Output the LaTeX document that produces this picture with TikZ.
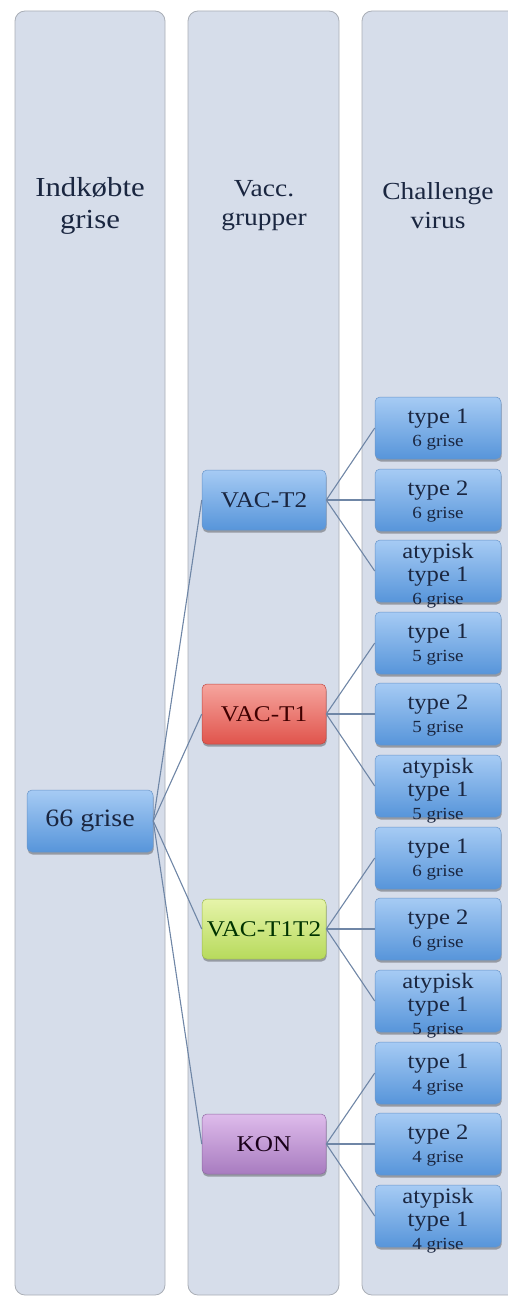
\documentclass[tikz,border=0pt]{standalone}
\usepackage{fontspec}
\setmainfont[FakeStretch=1.12]{Liberation Serif}
\usetikzlibrary{shadows,calc}
\definecolor{panelfill}{HTML}{D6DDEA}
\definecolor{paneldraw}{HTML}{A9AEB6}
\definecolor{linkcol}{HTML}{6F86A6}
\definecolor{txt}{HTML}{1A2640}
\definecolor{bluetop}{HTML}{A6CBF4}
\definecolor{bluebot}{HTML}{5795DA}
\definecolor{bluedraw}{HTML}{6A95C8}
\definecolor{redtop}{HTML}{F6A59E}
\definecolor{redbot}{HTML}{E0544C}
\definecolor{greentop}{HTML}{E6F4AA}
\definecolor{greenbot}{HTML}{B7DA5C}
\definecolor{purptop}{HTML}{DEBBEB}
\definecolor{purpbot}{HTML}{A87CC0}
\tikzset{
  panel/.style={draw=paneldraw, line width=0.8pt, fill=panelfill, rounded corners=10pt},
  boxbase/.style={rectangle, rounded corners=5pt, inner sep=0pt, line width=0.5pt,
    drop shadow={shadow xshift=0.6pt, shadow yshift=-2.5pt, opacity=0.3, fill=black}},
  bluebox/.style={boxbase, draw=bluedraw, top color=bluetop, bottom color=bluebot,
    minimum width=126pt, minimum height=62pt},
  midbox/.style={boxbase, minimum width=124pt, minimum height=60pt, text=txt,
    font=\fontsize{22.5}{25}\selectfont},
  headtxt/.style={align=center, text=txt},
  boxtxt/.style={align=center, text=txt, font=\fontsize{22}{23}\selectfont, inner sep=0pt},
  link/.style={draw=linkcol, line width=1.1pt}
}
\newcommand{\gr}[1]{{\fontsize{17}{24}\selectfont #1 grise}}
\begin{document}
\begin{tikzpicture}[x=1pt,y=-1pt]
\useasboundingbox (0,0) rectangle (508,1298);
\clip (0,0) rectangle (508,1298);
% panels
\path[panel] (15,11) rectangle (165,1295);
\path[panel] (188,11) rectangle (339,1295);
\path[panel] (362,11) rectangle (522,1295);
% headers
\node[headtxt, font=\fontsize{27.5}{32}\selectfont] (h1) at (90,206) {Indkøbte\\grise};
\node[headtxt, font=\fontsize{24.5}{29}\selectfont] (h2) at (264,206) {Vacc.\\grupper};
\node[headtxt, font=\fontsize{24.5}{29}\selectfont] (h3) at (438,206) {Challenge\\virus};
% root
\node[bluebox, text=txt, font=\fontsize{25}{28}\selectfont] (g66) at (90,821) {66 grise};
% middle
\node[midbox, draw=bluedraw, top color=bluetop, bottom color=bluebot] (v2) at (264,500) {VAC-T2};
\node[midbox, draw=redbot!85!black, top color=redtop, bottom color=redbot, text=black!75!red] (v1) at (264,714) {VAC-T1};
\node[midbox, draw=greenbot!85!black, top color=greentop, bottom color=greenbot, text=black!80!green] (v12) at (264,929) {VAC-T1T2};
\node[midbox, draw=purpbot!85!black, top color=purptop, bottom color=purpbot, text=black!80!violet] (kon) at (264,1144) {KON};
% right boxes
\foreach \n/\y in {a1/428,a2/500,a3/571,b1/643,b2/714,b3/786,c1/858,c2/929,c3/1001,d1/1073,d2/1144,d3/1216}{
  \node[bluebox] (\n) at (438,\y) {};
}
% texts in right boxes
\node[boxtxt] (ta1) at ($(a1.center)+(0,2)$) {type 1\\\gr{6}};
\node[boxtxt] (ta2) at ($(a2.center)+(0,2)$) {type 2\\\gr{6}};
\node[boxtxt] (ta3) at ($(a3.center)+(0,5)$) {atypisk\\type 1\\\gr{6}};
\node[boxtxt] (tb1) at ($(b1.center)+(0,2)$) {type 1\\\gr{5}};
\node[boxtxt] (tb2) at ($(b2.center)+(0,2)$) {type 2\\\gr{5}};
\node[boxtxt] (tb3) at ($(b3.center)+(0,5)$) {atypisk\\type 1\\\gr{5}};
\node[boxtxt] (tc1) at ($(c1.center)+(0,2)$) {type 1\\\gr{6}};
\node[boxtxt] (tc2) at ($(c2.center)+(0,2)$) {type 2\\\gr{6}};
\node[boxtxt] (tc3) at ($(c3.center)+(0,5)$) {atypisk\\type 1\\\gr{5}};
\node[boxtxt] (td1) at ($(d1.center)+(0,2)$) {type 1\\\gr{4}};
\node[boxtxt] (td2) at ($(d2.center)+(0,2)$) {type 2\\\gr{4}};
\node[boxtxt] (td3) at ($(d3.center)+(0,5)$) {atypisk\\type 1\\\gr{4}};
% connectors
\foreach \m in {v2,v1,v12,kon}{\path[link] (g66.east) -- (\m.west);}
\foreach \m/\r in {v2/a,v1/b,v12/c,kon/d}{
  \foreach \k in {1,2,3}{\path[link] (\m.east) -- (\r\k.west);}
}
\end{tikzpicture}
\end{document}
